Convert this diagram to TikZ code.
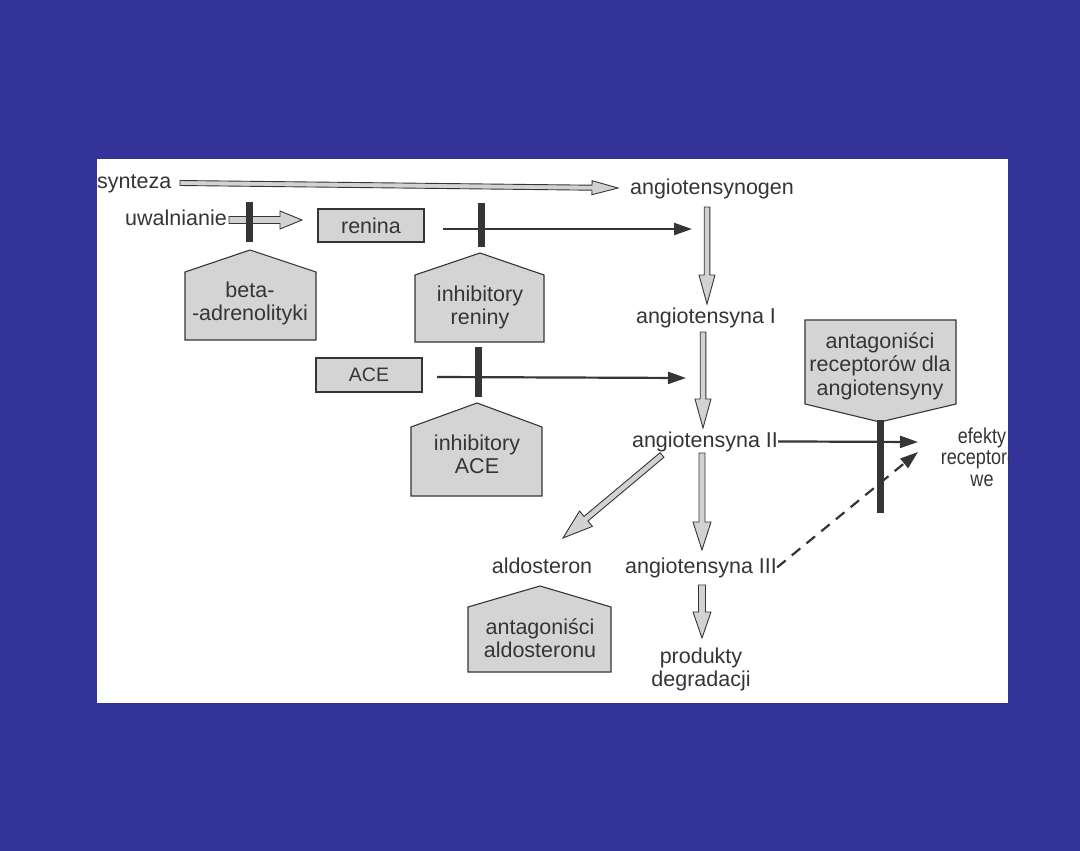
\documentclass[tikz,border=0pt]{standalone}
\usepackage{fontspec}
\setmainfont{Liberation Sans}
\usetikzlibrary{calc,arrows.meta}
\definecolor{bgblue}{HTML}{333399}
\definecolor{ink}{HTML}{353535}
\definecolor{boxfill}{HTML}{D4D4D4}
\definecolor{arrfill}{HTML}{D2D2D2}
\newcommand\hollowarr[5]{%
  \coordinate (hb) at ($(#2)!#5!(#1)$);
  \filldraw[hollow] ($(#1)!#3!90:(#2)$) -- ($(hb)!#3!90:(#2)$) -- ($(hb)!#4!90:(#2)$) -- (#2)
    -- ($(hb)!#4!-90:(#2)$) -- ($(hb)!#3!-90:(#2)$) -- ($(#1)!#3!-90:(#2)$) -- cycle;}
\begin{document}
\begin{tikzpicture}[x=1pt,y=-1pt,
  lbl/.style={font=\fontsize{21.5}{23}\selectfont, text=ink, inner sep=0pt, align=center},
  house/.style={draw=ink, fill=boxfill, line width=1.1pt, line join=miter},
  hollow/.style={draw=ink, fill=arrfill, line width=0.9pt, line join=miter},
  inhbar/.style={draw=ink, line width=7pt},
  darr/.style={draw=ink, line width=2.2pt, -{Triangle[length=18pt,width=12pt]}},
  boxnode/.style={lbl, draw=ink, fill=boxfill, line width=1.1pt},
]
\useasboundingbox (0,0) rectangle (1080,851);
\fill[bgblue] (0,0) rectangle (1080,851);
\fill[white] (97,159) rectangle (1008,703);

% labels
\node[lbl, anchor=base west] (synt) at (97,188) {synteza};
\node[lbl, anchor=base] (agen) at (712,194) {angiotensynogen};
\node[lbl, anchor=base west] (uwal) at (125,225) {uwalnianie};
\node[boxnode, minimum width=106pt, minimum height=33pt] (ren) at (371,225.5) {renina};
\node[lbl, anchor=base] (ang1) at (706,323) {angiotensyna I};
\node[boxnode, font=\fontsize{19.5}{21}\selectfont, minimum width=106pt, minimum height=34pt] (ace) at (369,375) {ACE};
\node[lbl, anchor=base] (ang2) at (705,447) {angiotensyna II};
\node[lbl, anchor=base] (ald) at (542,573) {aldosteron};
\node[lbl, anchor=base] (ang3) at (701,573) {angiotensyna III};
\node[lbl] (prod) at (701,669) {produkty\\degradacji};

% houses
\draw[house] (185,272) -- (250,250) -- (316,272) -- (316,340) -- (185,340) -- cycle;
\node[lbl] (beta) at (250,303) {beta-\\-adrenolityki};
\draw[house] (415,275) -- (480,253) -- (544,275) -- (544,342) -- (415,342) -- cycle;
\node[lbl] (inhr) at (480,307) {inhibitory\\reniny};
\draw[house] (411,427) -- (477,403) -- (542,427) -- (542,496) -- (411,496) -- cycle;
\node[lbl] (inha) at (477,454) {inhibitory\\ACE};
\draw[house] (805,320) -- (956,320) -- (956,404) -- (880,422) -- (805,404) -- cycle;
\node[lbl, font=\fontsize{21.5}{23.5}\selectfont] (antr) at (880,366) {antagoniści\\receptorów dla\\angiotensyny};
\draw[house] (468,607) -- (540,586) -- (611,607) -- (611,672) -- (468,672) -- cycle;
\node[lbl] (anta) at (540,638) {antagoniści\\aldosteronu};

% effects label (clipped by the panel)
\begin{scope}
  \clip (97,159) rectangle (1008,703);
  \begin{scope}[shift={(982,457)}, xscale=0.84]
    \node[lbl, transform shape, font=\fontsize{21.5}{21.5}\selectfont] (efk) at (0,0) {efekty\\receptoro-\\we};
  \end{scope}
\end{scope}

% hollow arrows
\coordinate (s0) at (180,183); \coordinate (s1) at (618,188);
\hollowarr{s0}{s1}{2.5pt}{7pt}{26pt}
\coordinate (u0) at (229,220); \coordinate (u1) at (302,220);
\hollowarr{u0}{u1}{3.5pt}{9pt}{22pt}
\coordinate (g0) at (707,207); \coordinate (g1) at (707,304);
\hollowarr{g0}{g1}{2.8pt}{8pt}{29pt}
\coordinate (a0) at (703,332); \coordinate (a1) at (703,428);
\hollowarr{a0}{a1}{2.8pt}{8pt}{29pt}
\coordinate (d0) at (662,455); \coordinate (d1) at (563,538);
\hollowarr{d0}{d1}{3pt}{10pt}{30pt}
\coordinate (b0) at (702,453); \coordinate (b1) at (702,550);
\hollowarr{b0}{b1}{3pt}{9pt}{28pt}
\coordinate (p0) at (702,585); \coordinate (p1) at (702,638);
\hollowarr{p0}{p1}{3.5pt}{9pt}{26pt}

% dark arrows
\coordinate (r0) at (443,229); \coordinate (r1) at (692,229);
\draw[darr] (r0) -- (r1);
\coordinate (c0) at (437,377); \coordinate (c1) at (686,378);
\draw[darr] (c0) -- (c1);
\coordinate (e1) at (918,442);
\draw[darr] (ang2.east) -- (e1);
\coordinate (e2) at (918,452);
\draw[darr, dash pattern=on 11pt off 8pt] (ang3.east) -- (e2);

% inhibition bars
\draw[inhbar] (249,202) -- (249,242);
\draw[inhbar] (481,203) -- (481,247);
\draw[inhbar] (478,347) -- (478,397);
\draw[inhbar] (880,420) -- (880,513);
\end{tikzpicture}
\end{document}
